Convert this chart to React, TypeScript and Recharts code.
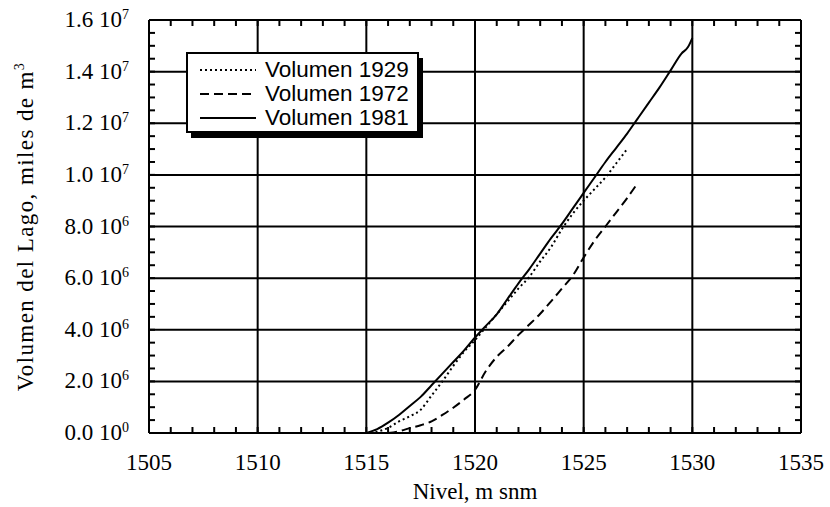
import React from "react";
import { ComposedChart, Line, Scatter, XAxis, YAxis, CartesianGrid, Label } from "recharts";

// Nivel (m snm) and volumen (millones de m3)
const nivel1929 = [1515.2, 1515.5, 1516, 1516.5, 1517, 1517.5, 1518, 1518.5, 1519, 1519.5, 1520, 1520.5, 1521, 1521.5, 1522, 1522.5, 1523, 1523.5, 1524, 1524.5, 1525, 1525.5, 1526, 1526.5, 1527];
const vol1929 = [0, 0.05, 0.2, 0.45, 0.65, 0.9, 1.45, 2.0, 2.6, 3.15, 3.6, 4.1, 4.6, 5.1, 5.6, 6.05, 6.65, 7.2, 7.9, 8.5, 9.0, 9.45, 9.9, 10.45, 11.0];

const nivel1972 = [1516, 1516.5, 1517, 1517.5, 1518, 1518.5, 1519, 1519.5, 1520, 1520.5, 1521, 1521.5, 1522, 1522.5, 1523, 1523.5, 1524, 1524.5, 1525, 1525.5, 1526, 1526.5, 1527, 1527.5];
const vol1972 = [0, 0.07, 0.19, 0.3, 0.45, 0.7, 0.98, 1.3, 1.67, 2.4, 2.95, 3.35, 3.8, 4.2, 4.62, 5.1, 5.6, 6.1, 6.8, 7.45, 8.0, 8.55, 9.1, 9.7];

const nivel1981 = [1515, 1515.5, 1516, 1516.5, 1517, 1517.5, 1518, 1518.5, 1519, 1519.5, 1520, 1520.5, 1521, 1521.5, 1522, 1522.5, 1523, 1523.5, 1524, 1524.5, 1525, 1525.5, 1526, 1526.5, 1527, 1527.5, 1528, 1528.5, 1529, 1529.5, 1529.8, 1530];
const vol1981 = [0, 0.15, 0.4, 0.7, 1.05, 1.4, 1.85, 2.3, 2.75, 3.2, 3.7, 4.15, 4.6, 5.2, 5.8, 6.35, 6.95, 7.55, 8.1, 8.7, 9.3, 9.9, 10.5, 11.05, 11.6, 12.2, 12.8, 13.4, 14.05, 14.7, 14.95, 15.3];

const xTicks = [1505, 1510, 1515, 1520, 1525, 1530, 1535];
const yTicks = [0, 2e6, 4e6, 6e6, 8e6, 1e7, 1.2e7, 1.4e7, 1.6e7];
const xMinor = Array.from({ length: 31 }, (_, i) => 1505 + i);
const yMinor = Array.from({ length: 33 }, (_, i) => i * 5e5);

const seriesNames = ["Volumen 1929", "Volumen 1972", "Volumen 1981"];
const dashes = ["2 3", "9 5", undefined];

const toRows = (nivel: number[], vol: number[]) => nivel.map((x, i) => ({ x, v: vol[i] * 1e6 }));
const seriesData = [toRows(nivel1929, vol1929), toRows(nivel1972, vol1972), toRows(nivel1981, vol1981)];

// where the inward minor ticks sit on the four sides of the frame
const leftMarks = yMinor.map((v) => ({ x: 1505, v }));
const rightMarks = yMinor.map((v) => ({ x: 1535, v }));
const topMarks = xMinor.map((x) => ({ x, v: 1.6e7 }));
const bottomMarks = xMinor.map((x) => ({ x, v: 0 }));

const serif = '"Liberation Serif", "Times New Roman", serif';
const sans = '"Liberation Sans", Arial, sans-serif';

const TICK = 6;

function YTick({ x, y, payload }: any) {
  const v = payload.value as number;
  const exp = v === 0 ? 0 : Math.floor(Math.log10(v) + 1e-9);
  const mant = (v / Math.pow(10, exp)).toFixed(1);
  return (
    <text x={x} y={y} dy={7} textAnchor="end" fontFamily={serif} fontSize={23} fill="#000">
      {mant} 10
      <tspan dy={-8} fontSize={14}>{exp}</tspan>
    </text>
  );
}

function XTick({ x, y, payload }: any) {
  return (
    <text x={x} y={y + 37} textAnchor="middle" fontFamily={serif} fontSize={23} fill="#000">
      {payload.value}
    </text>
  );
}

const renderYLabel = (props: any) => {
  const vb = props.viewBox;
  const cx = vb.x + 33;
  const cy = vb.y + vb.height / 2;
  return (
    <text x={cx} y={cy} transform={`rotate(-90 ${cx} ${cy})`} textAnchor="middle" fontFamily={serif} fontSize={23} letterSpacing={1.4} fill="#000">
      Volumen del Lago, miles de m<tspan dy={-9} fontSize={14}>3</tspan>
    </text>
  );
};

const renderXLabel = (props: any) => {
  const vb = props.viewBox;
  return (
    <text x={vb.x + vb.width / 2} y={vb.y + 66} textAnchor="middle" fontFamily={serif} fontSize={23} fill="#000">
      Nivel, m snm
    </text>
  );
};

export default function App() {
  const border = { stroke: "#000", strokeWidth: 2 };
  return (
    <div style={{ position: "absolute", left: 0, top: 0, width: 830, height: 507, background: "#fff" }}>
      <ComposedChart width={830} height={507} margin={{ top: 20, right: 29, left: 0, bottom: 0 }}>
        <CartesianGrid stroke="#000" strokeWidth={2} verticalValues={xTicks} horizontalValues={yTicks} />

        <XAxis dataKey="x" type="number" domain={[1505, 1535]} ticks={xTicks} interval={0} height={74} tickSize={0} tickMargin={0} tickLine={false} axisLine={border} tick={<XTick />}>
          <Label content={renderXLabel} />
        </XAxis>
        <YAxis dataKey="v" type="number" domain={[0, 1.6e7]} ticks={yTicks} interval={0} width={149} tickSize={0} tickMargin={20} tickLine={false} axisLine={border} tick={<YTick />}>
          <Label content={renderYLabel} />
        </YAxis>

        <Scatter data={leftMarks} dataKey="v" fill="#000" isAnimationActive={false} shape={(p: any) => <line x1={p.cx} x2={p.cx + TICK} y1={p.cy} y2={p.cy} stroke="#000" strokeWidth={2} />} />
        <Scatter data={rightMarks} dataKey="v" fill="#000" isAnimationActive={false} shape={(p: any) => <line x1={p.cx - TICK} x2={p.cx} y1={p.cy} y2={p.cy} stroke="#000" strokeWidth={2} />} />
        <Scatter data={topMarks} dataKey="v" fill="#000" isAnimationActive={false} shape={(p: any) => <line x1={p.cx} x2={p.cx} y1={p.cy} y2={p.cy + TICK} stroke="#000" strokeWidth={2} />} />
        <Scatter data={bottomMarks} dataKey="v" fill="#000" isAnimationActive={false} shape={(p: any) => <line x1={p.cx} x2={p.cx} y1={p.cy - TICK} y2={p.cy} stroke="#000" strokeWidth={2} />} />

        {seriesData.map((d, i) => (
          <Line
            key={seriesNames[i]}
            data={d}
            dataKey="v"
            type="monotone"
            stroke="#000"
            strokeWidth={2}
            strokeDasharray={dashes[i]}
            dot={false}
            isAnimationActive={false}
          />
        ))}
      </ComposedChart>

      <svg width={830} height={507} style={{ position: "absolute", left: 0, top: 0, pointerEvents: "none" }}>
        <rect x={191} y={58} width={232} height={80} fill="#000" />
        <rect x={187} y={53} width={231} height={79} fill="#fff" stroke="#000" strokeWidth={2} />
        {seriesNames.map((name, i) => {
          const cy = 70 + i * 24;
          return (
            <g key={name}>
              <line x1={200} x2={256} y1={cy} y2={cy} stroke="#000" strokeWidth={2} strokeDasharray={dashes[i]} />
              <text x={265} y={cy + 7} fontFamily={sans} fontSize={22.5} fill="#000">
                {name}
              </text>
            </g>
          );
        })}
      </svg>
    </div>
  );
}
